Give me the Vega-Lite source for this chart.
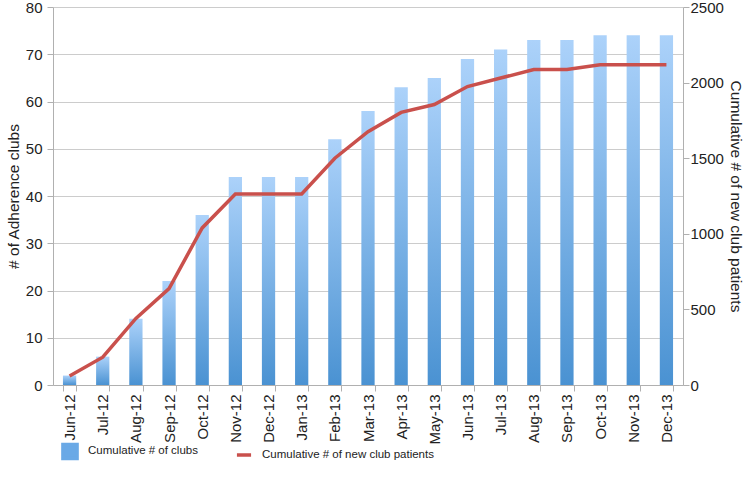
{
  "$schema": "https://vega.github.io/schema/vega-lite/v6.json",
  "width": 630,
  "height": 378,
  "autosize": {"type": "none"},
  "padding": {"left": 53, "top": 7, "right": 62, "bottom": 103},
  "config": {
    "font": "Liberation Sans",
    "view": {"stroke": null},
    "axis": {"labelFont": "Liberation Sans", "titleFont": "Liberation Sans", "labelColor": "#222", "titleColor": "#222", "labelFontSize": 15, "titleFontSize": 15.5, "titleFontWeight": "normal", "domainColor": "#b0b0b0", "tickColor": "#b0b0b0", "gridColor": "#cccccc"}
  },
  "data": {"values": [
    {"month": "Jun-12", "clubs": 2, "patients": 60},
    {"month": "Jul-12", "clubs": 6, "patients": 184},
    {"month": "Aug-12", "clubs": 14, "patients": 440},
    {"month": "Sep-12", "clubs": 22, "patients": 638},
    {"month": "Oct-12", "clubs": 36, "patients": 1039},
    {"month": "Nov-12", "clubs": 44, "patients": 1263},
    {"month": "Dec-12", "clubs": 44, "patients": 1263},
    {"month": "Jan-13", "clubs": 44, "patients": 1263},
    {"month": "Feb-13", "clubs": 52, "patients": 1500},
    {"month": "Mar-13", "clubs": 58, "patients": 1675},
    {"month": "Apr-13", "clubs": 63, "patients": 1803},
    {"month": "May-13", "clubs": 65, "patients": 1855},
    {"month": "Jun-13", "clubs": 69, "patients": 1974},
    {"month": "Jul-13", "clubs": 71, "patients": 2030},
    {"month": "Aug-13", "clubs": 73, "patients": 2086},
    {"month": "Sep-13", "clubs": 73, "patients": 2086},
    {"month": "Oct-13", "clubs": 74, "patients": 2118},
    {"month": "Nov-13", "clubs": 74, "patients": 2118},
    {"month": "Dec-13", "clubs": 74, "patients": 2118}
  ]},
  "encoding": {
    "x": {"field": "month", "type": "ordinal", "sort": null,
      "scale": {"paddingInner": 0.6, "paddingOuter": 0.3},
      "axis": {"title": null, "labelAngle": -90, "tickBand": "extent", "tickSize": 6, "labelPadding": 3, "grid": false}}
  },
  "layer": [
    {
      "mark": {"type": "bar", "color": {"gradient": "linear", "x1": 0, "y1": 0, "x2": 0, "y2": 1, "stops": [{"offset": 0, "color": "#acd2fa"}, {"offset": 1, "color": "#4a92d2"}]}},
      "encoding": {
        "y": {"field": "clubs", "type": "quantitative", "scale": {"domain": [0, 80]},
          "axis": {"title": "# of Adherence clubs", "values": [0,10,20,30,40,50,60,70,80], "labelOverlap": false, "tickSize": 6, "labelPadding": 5, "titlePadding": 4, "grid": true, "titleColor": "#222"}}
      }
    },
    {
      "transform": [{"calculate": "'Cumulative # of new club patients'", "as": "series"}],
      "mark": {"type": "line", "strokeWidth": 3.5},
      "encoding": {
        "y": {"field": "patients", "type": "quantitative", "scale": {"domain": [0, 2500]},
          "axis": {"title": "Cumulative # of new club patients", "orient": "right", "format": "d", "values": [0,500,1000,1500,2000,2500], "labelOverlap": false, "tickSize": 6, "labelPadding": 1, "titlePadding": 4, "grid": false, "titleColor": "#222"}},
        "color": {"field": "series", "type": "nominal",
          "scale": {"domain": ["Cumulative # of clubs", "Cumulative # of new club patients"], "range": ["#6aa9e6", "#c9504c"]},
          "legend": {"title": null, "orient": "none", "legendX": 8, "legendY": 435, "direction": "horizontal",
            "labelFontSize": 11.5, "labelFont": "Liberation Sans", "labelColor": "#222", "labelLimit": 0, "columnPadding": 31, "labelOffset": 9, "symbolSize": 200,
            "encode": {"symbols": {"update": {
              "shape": {"signal": "datum.label === 'Cumulative # of clubs' ? 'square' : 'stroke'"},
              "strokeWidth": {"value": 3.5},
              "fill": {"signal": "datum.label === 'Cumulative # of clubs' ? '#6aa9e6' : 'transparent'"},
              "stroke": {"signal": "datum.label === 'Cumulative # of clubs' ? 'transparent' : '#c9504c'"}
            }}}}
        }
      }
    }
  ],
  "resolve": {"scale": {"y": "independent"}}
}
